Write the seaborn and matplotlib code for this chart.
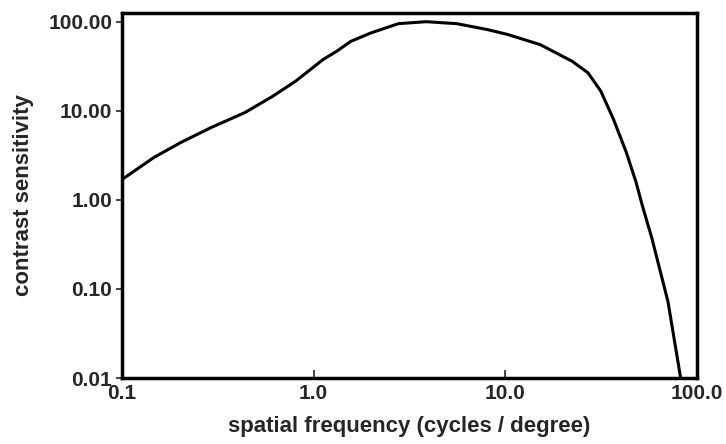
import matplotlib
matplotlib.use("Agg")
import matplotlib.pyplot as plt
import seaborn as sns
import pandas as pd
from matplotlib.ticker import FixedLocator, FixedFormatter, NullLocator

freq = [0.1, 0.147, 0.203, 0.292, 0.438, 0.607, 0.806, 1.12, 1.32, 1.56, 1.99,
        2.77, 3.86, 5.59, 8.1, 10.35, 15.2, 22.3, 27.0, 31.5, 36.7, 42.8, 48.1,
        51.9, 58.2, 70.6, 82.2]
sens = [1.69, 3.0, 4.41, 6.49, 9.55, 14.4, 21.5, 37.6, 46.6, 60.0, 74.8,
        95.0, 100.0, 95.0, 81.4, 71.6, 55.3, 36.0, 26.7, 16.6, 8.0, 3.41, 1.58,
        0.86, 0.37, 0.072, 0.01]

x_ticks = [0.1, 1.0, 10.0, 100.0]
x_labels = ["0.1", "1.0", "10.0", "100.0"]
y_ticks = [0.01, 0.1, 1.0, 10.0, 100.0]
y_labels = ["0.01", "0.10", "1.00", "10.00", "100.00"]

sns.set_style("ticks")
plt.rcParams['font.family'] = ['Liberation Sans', 'DejaVu Sans']

fig = plt.figure(figsize=(7.26, 4.44), dpi=100)
ax = fig.add_axes([0.168, 0.1486, 0.792, 0.822])

df = pd.DataFrame({"freq": freq, "sens": sens})
sns.lineplot(data=df, x="freq", y="sens", ax=ax, color="black", linewidth=2.2)
for ln in ax.get_lines():
    ln.set_solid_joinstyle("round")
    ln.set_solid_capstyle("round")

ax.set_xscale("log")
ax.set_yscale("log")
ax.set_xlim(0.1, 100)
ax.set_ylim(0.01, 125)

ax.xaxis.set_major_locator(FixedLocator(x_ticks))
ax.xaxis.set_major_formatter(FixedFormatter(x_labels))
ax.xaxis.set_minor_locator(NullLocator())
ax.yaxis.set_major_locator(FixedLocator(y_ticks))
ax.yaxis.set_major_formatter(FixedFormatter(y_labels))
ax.yaxis.set_minor_locator(NullLocator())

ax.tick_params(axis="x", direction="in", length=6, width=1.2, labelsize=15, pad=4)
ax.tick_params(axis="y", direction="out", length=4, width=1.2, labelsize=15, pad=3)
for lab in ax.get_xticklabels() + ax.get_yticklabels():
    lab.set_fontweight("bold")

for s in ax.spines.values():
    s.set_linewidth(2.5)
    s.set_color("black")

ax.set_xlabel("spatial frequency (cycles / degree)", fontsize=16, fontweight="bold", labelpad=10)
ax.set_ylabel("contrast sensitivity", fontsize=16, fontweight="bold", labelpad=10)

fig.savefig("out.png", dpi=100)
